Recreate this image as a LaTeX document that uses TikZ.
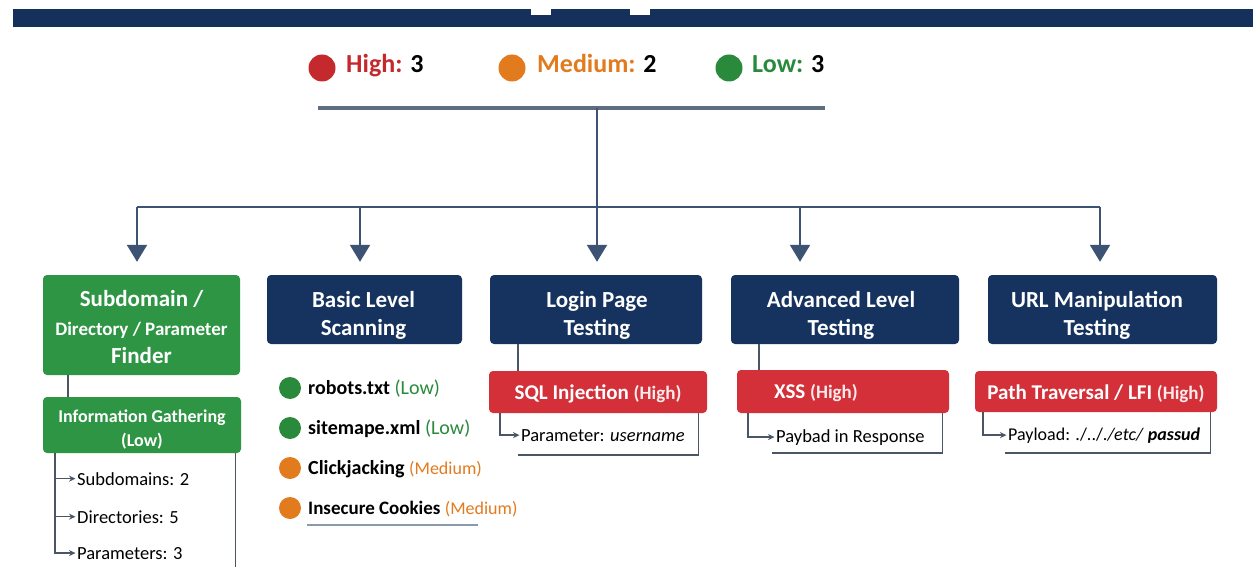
\documentclass[tikz,border=0pt]{standalone}
\usepackage{fontspec}
\setmainfont{Carlito}
\usetikzlibrary{arrows.meta,calc}
\definecolor{navy}{HTML}{15305B}
\definecolor{boxblue}{HTML}{16335F}
\definecolor{boxgreen}{HTML}{2E9545}
\definecolor{boxred}{HTML}{D3303A}
\definecolor{linkc}{HTML}{3C5374}
\definecolor{legline}{HTML}{5E6D80}
\definecolor{brkc}{HTML}{4A5566}
\definecolor{hic}{HTML}{C4292E}
\definecolor{medc}{HTML}{E27A1E}
\definecolor{lowc}{HTML}{2A8A3C}
\definecolor{ulc}{HTML}{8A9AAD}
\definecolor{pinkw}{HTML}{FBEAEA}
\tikzset{
  box/.style={rounded corners=4pt, inner sep=0pt, draw=none},
  bluebox/.style={box, fill=boxblue},
  greenbox/.style={box, fill=boxgreen},
  redbox/.style={box, fill=boxred},
  ttl/.style={anchor=base, text=white, inner sep=0pt, font=\fontsize{23}{23}\selectfont\bfseries},
  ttlsmall/.style={ttl, font=\fontsize{19}{19}\selectfont\bfseries},
  infottl/.style={ttl, font=\fontsize{18}{18}\selectfont\bfseries},
  redttl/.style={ttl, font=\fontsize{21}{21}\selectfont\bfseries},
  itemtxt/.style={anchor=base west, inner sep=0pt, font=\fontsize{18.5}{18.5}\selectfont},
  subtxt/.style={anchor=base west, inner sep=0pt, font=\fontsize{18.5}{18.5}\selectfont},
  bullettxt/.style={anchor=base west, inner sep=0pt, font=\fontsize{20}{20}\selectfont\bfseries},
  legtxt/.style={anchor=base west, inner sep=0pt, font=\fontsize{26}{26}\selectfont\bfseries},
  dot/.style={circle, inner sep=0pt, minimum size=22pt, draw=none},
  legdot/.style={circle, inner sep=0pt, minimum size=27pt, draw=none},
  mainarr/.style={draw=linkc, line width=2.2pt, -{Triangle[length=17pt,width=20pt]}, shorten >=13pt},
  bus/.style={draw=linkc, line width=2.6pt},
  link/.style={draw=brkc, line width=1.6pt},
  small/.style={draw=brkc, line width=1.4pt, -{Stealth[length=6.5pt,width=6pt]}, shorten >=1.5pt},
  brk/.style={draw=brkc, line width=1.4pt},
}
\begin{document}
\begin{tikzpicture}[x=1pt,y=-1pt]
\useasboundingbox (0,0) rectangle (1253,567);
\fill[white] (0,0) rectangle (1253,567);
% banner
\fill[navy] (13,9) rectangle (1253,27);
\fill[white] (531,9) rectangle (551,15);
\fill[white] (630,9) rectangle (650,15);

% legend
\node[legdot, fill=hic] (lhi) at (322,68) {};
\node[legtxt] (lhit) at (346,73) {\textcolor{hic}{High:} 3};
\node[legdot, fill=medc] (lmed) at (512,68) {};
\node[legtxt] (lmedt) at (537,73) {\textcolor{medc}{Medium:} 2};
\node[legdot, fill=lowc] (llow) at (729,68) {};
\node[legtxt] (llowt) at (752,73) {\textcolor{lowc}{Low:} 3};

\coordinate (lgL) at (318,108);
\coordinate (lgR) at (825,108);
\coordinate (lgM) at (597,108);
\draw[legline, line width=4pt] (lgL) -- (lgR);

% bus
\coordinate (bus1) at (137,207);
\coordinate (bus2) at (360,207);
\coordinate (bus3) at (597,207);
\coordinate (bus4) at (800,207);
\coordinate (bus5) at (1100,207);
\draw[draw=linkc, line width=1.6pt] (lgM) -- (bus3);
\draw[bus] (bus1) -- (bus5);

% top boxes
\node[greenbox, minimum width=197pt, minimum height=100pt] (sub) at (141.5,325) {};
\node[bluebox, minimum width=195pt, minimum height=69pt] (basic) at (364.5,309.5) {};
\node[bluebox, minimum width=212pt, minimum height=69pt] (login) at (596,309.5) {};
\node[bluebox, minimum width=228pt, minimum height=69pt] (adv) at (845,309.5) {};
\node[bluebox, minimum width=229pt, minimum height=69pt] (url) at (1102.5,309.5) {};

\draw[mainarr] (bus1) -- (bus1 |- sub.north);
\draw[mainarr] (bus2) -- (bus2 |- basic.north);
\draw[mainarr] (bus3) -- (bus3 |- login.north);
\draw[mainarr] (bus4) -- (bus4 |- adv.north);
\draw[mainarr] (bus5) -- (bus5 |- url.north);

% titles
\node[ttl] (subt1) at (141.5,306) {Subdomain /};
\node[ttlsmall] (subt2) at (141.5,335) {Directory / Parameter};
\node[ttl] (subt3) at (141.5,363) {Finder};
\node[ttl] (basict1) at (363.5,307) {Basic Level};
\node[ttl] (basict2) at (363.5,335) {Scanning};
\node[ttl] (logint1) at (597,307) {Login Page};
\node[ttl] (logint2) at (597,335) {Testing};
\node[ttl] (advt1) at (841,307) {Advanced Level};
\node[ttl] (advt2) at (841,335) {Testing};
\node[ttl] (urlt1) at (1097,307) {URL Manipulation};
\node[ttl] (urlt2) at (1097,335) {Testing};

% information gathering
\node[greenbox, minimum width=198pt, minimum height=56pt] (info) at (142,425) {};
\coordinate (subL) at ([xshift=25pt]sub.south west);
\draw[link] (subL) -- (subL |- info.north);
\node[infottl] (infot1) at (142,422) {Information Gathering};
\node[infottl] (infot2) at (142,446) {(Low)};
\node[itemtxt] (li1) at (77,485) {Subdomains: 2};
\node[itemtxt] (li2) at (77,523) {Directories: 5};
\node[itemtxt] (li3) at (77,559) {Parameters: 3};
\coordinate (infL) at ([xshift=12pt]info.south west);
\coordinate (infR) at ([xshift=-6pt]info.south east);
\coordinate (bottomEdge) at (0,567);
\draw[small] (infL) |- (li3.west);
\draw[small] (infL |- li1.west) -- (li1.west);
\draw[small] (infL |- li2.west) -- (li2.west);
\draw[brk] (infR) -- (infR |- bottomEdge);

% basic scanning bullets
\node[dot, fill=lowc] (b1) at (290,388) {};
\node[bullettxt] (b1t) at (308,394) {robots.txt \textcolor{lowc}{\mdseries(Low)}};
\node[dot, fill=lowc] (b2) at (290,428) {};
\node[bullettxt] (b2t) at (308,434) {sitemape.xml \textcolor{lowc}{\mdseries(Low)}};
\node[dot, fill=medc] (b3) at (290,468) {};
\node[bullettxt] (b3t) at (308,474) {Clickjacking \textcolor{medc}{\mdseries\fontsize{18}{18}\selectfont(Medium)}};
\node[dot, fill=medc] (b4) at (290,508) {};
\node[bullettxt] (b4t) at (308,514) {\fontsize{19}{19}\selectfont Insecure Cookies \textcolor{medc}{\mdseries\fontsize{18}{18}\selectfont(Medium)}};
\coordinate (ulL) at (307,525);
\coordinate (ulR) at (478,525);
\draw[ulc, line width=1.3pt] (ulL) -- (ulR);

% red boxes
\node[redbox, minimum width=218pt, minimum height=42pt] (sql) at (598,392) {};
\node[redbox, minimum width=212pt, minimum height=43pt] (xss) at (843,391.5) {};
\node[redbox, minimum width=242pt, minimum height=41pt] (path) at (1096,391.5) {};
\coordinate (loginL) at ([xshift=28pt]login.south west);
\draw[link] (loginL) -- (loginL |- sql.north);
\coordinate (advL) at ([xshift=28pt]adv.south west);
\draw[link] (advL) -- (advL |- xss.north);

\node[redttl] (sqlt) at (598,399) {SQL Injection {\fontsize{19}{19}\selectfont\textcolor{pinkw}{(High)}}};
\node[redttl] (xsst) at (816,398) {XSS {\fontsize{19}{19}\selectfont\textcolor{pinkw}{(High)}}};
\node[redttl] (patht) at (1096,399) {Path Traversal / LFI {\fontsize{19}{19}\selectfont\textcolor{pinkw}{(High)}}};

% sub details
\node[subtxt] (p1) at (521,441) {Parameter: \textit{username}};
\node[subtxt] (p2) at (776,442) {Paybad in Response};
\node[subtxt, font=\fontsize{18}{18}\selectfont] (p3) at (1008,440) {Payload: ./../.\textit{/etc/} \textbf{\textit{passud}}};

\coordinate (sqlL) at ([xshift=11pt]sql.south west);
\draw[small] (sqlL) |- (p1.west);
\coordinate (sqlR) at ([xshift=-9pt]sql.south east);
\coordinate (sqlB) at (518,455);
\draw[brk] (sqlR) -- (sqlR |- sqlB) -- (sqlB);

\coordinate (xssL) at ([xshift=11pt]xss.south west);
\draw[small] (xssL) |- (p2.west);
\coordinate (xssR) at ([xshift=-7pt]xss.south east);
\coordinate (xssB) at (772,453);
\draw[brk] (xssR) -- (xssR |- xssB) -- (xssB);

\coordinate (pathL) at ([xshift=8pt]path.south west);
\draw[small] (pathL) |- (p3.west);
\coordinate (pathR) at ([xshift=-7pt]path.south east);
\coordinate (pathB) at (1005,453);
\draw[brk] (pathR) -- (pathR |- pathB) -- (pathB);
\end{tikzpicture}
\end{document}
